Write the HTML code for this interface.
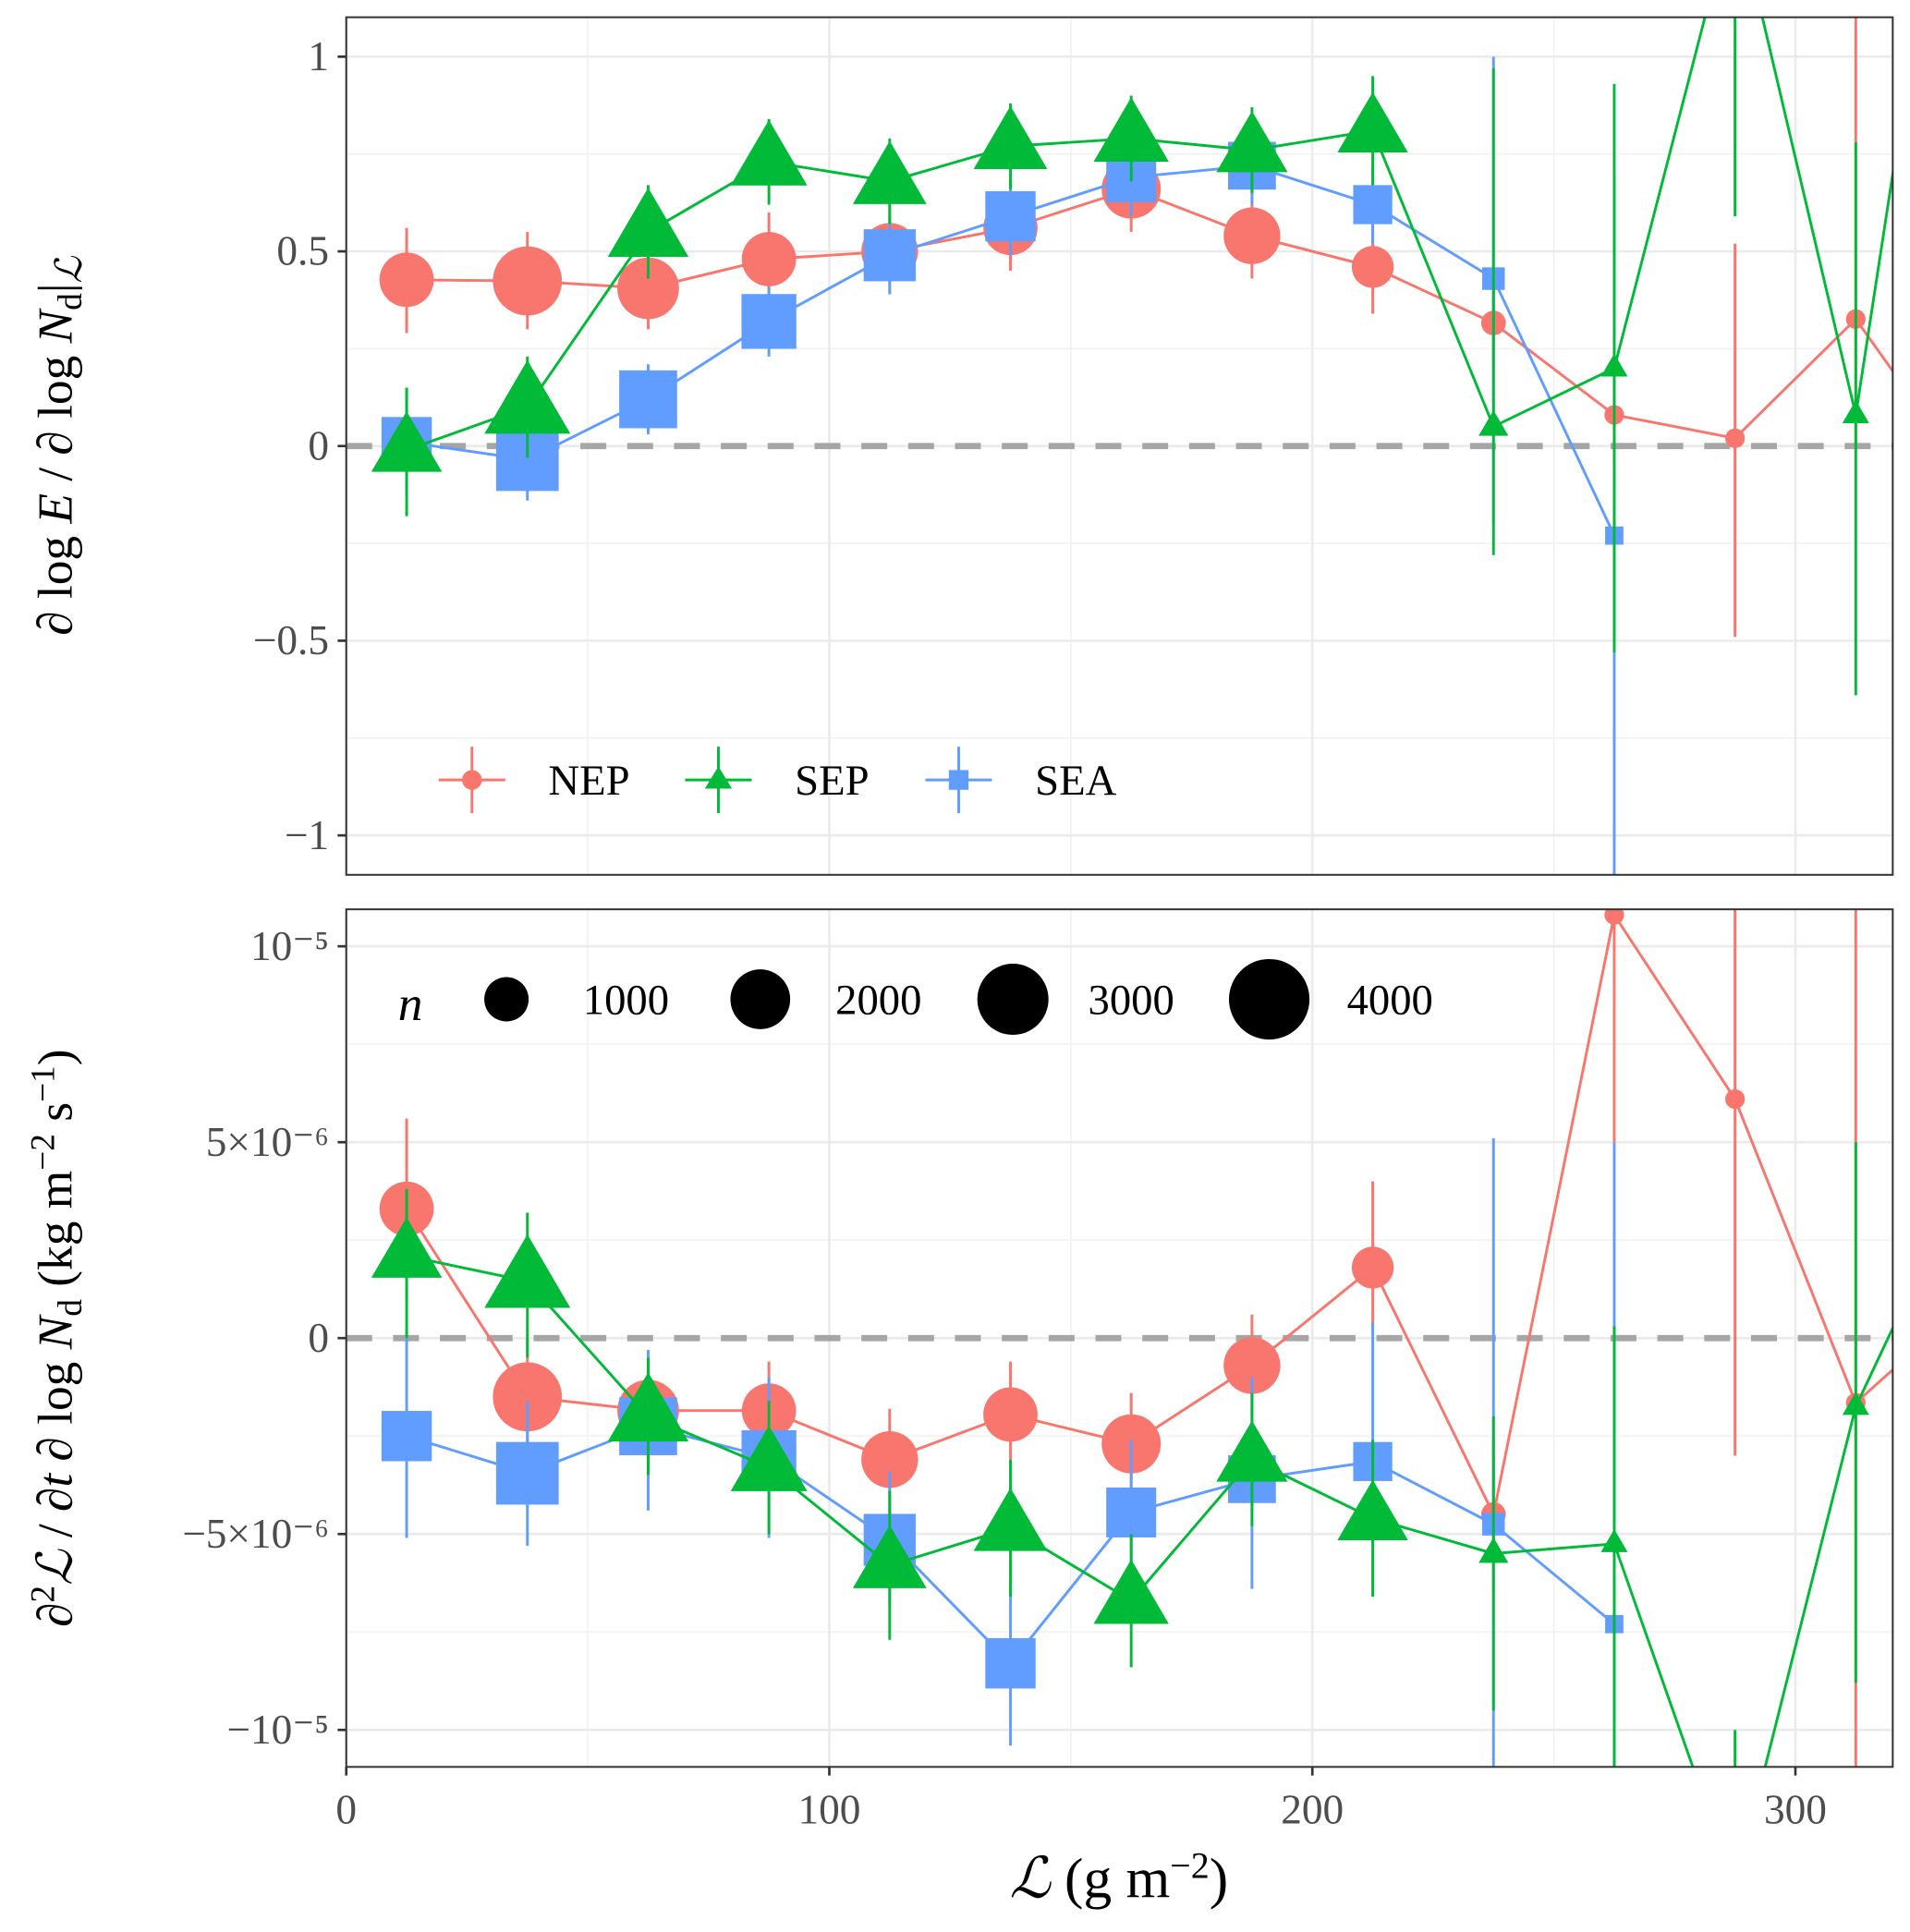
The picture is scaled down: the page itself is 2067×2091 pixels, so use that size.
<!DOCTYPE html>
<html><head><meta charset="utf-8"><style>
html,body{margin:0;padding:0;background:#fff;overflow:hidden;width:2067px;height:2091px;}
svg{display:block;font-family:"Liberation Serif",serif;}
</style></head><body>
<svg id="chart" width="2067" height="2091" viewBox="0 0 1550 1568" preserveAspectRatio="none" xmlns="http://www.w3.org/2000/svg"></svg>
<script>
const xVals=[12.5,37.5,62.5,87.5,112.5,137.5,162.5,187.5,212.5,237.5,262.5,287.5,312.5,337.5];
const xTicks=[0,100,200,300];
const topTicks=[1,0.5,0,-0.5,-1];
const topTickLabels=["1","0.5","0","\u22120.5","\u22121"];
const botTicks=[10,5,0,-5,-10];
const botTickLabels=["10\u207B\u2075","5\u00D710\u207B\u2076","0","\u22125\u00D710\u207B\u2076","\u221210\u207B\u2075"];
// top panel values
const topNEP=[0.427,0.424,0.405,0.48,0.5,0.56,0.66,0.54,0.46,0.316,0.08,0.02,0.326,-0.11];
const topNEPlo=[0.29,0.3,0.3,0.36,0.39,0.45,0.55,0.43,0.34,0.2,-0.05,-0.49,0.0,-0.5];
const topNEPhi=[0.56,0.55,0.5,0.6,0.62,0.67,0.77,0.65,0.58,0.45,0.21,0.52,1.3,0.3];
const topSEP=[-0.01,0.1,0.55,0.73,0.68,0.77,0.79,0.76,0.81,0.05,0.2,1.4,0.08,2.1];
const topSEPlo=[-0.18,-0.03,0.43,0.62,0.57,0.66,0.68,0.65,0.67,-0.28,-0.53,0.59,-0.64,1.2];
const topSEPhi=[0.15,0.23,0.67,0.84,0.79,0.88,0.9,0.87,0.95,0.97,0.93,2.2,0.78,3.0];
const topSEA=[0.01,-0.035,0.12,0.32,0.49,0.59,0.69,0.72,0.62,0.43,-0.23];
const topSEAlo=[-0.13,-0.14,0.03,0.23,0.39,0.49,0.59,0.62,0.52,-0.2,-1.2];
const topSEAhi=[0.15,0.07,0.21,0.41,0.59,0.69,0.79,0.82,0.72,1.0,0.7];
// bottom panel values (units of 1e-6)
const botNEP=[3.3,-1.5,-1.85,-1.85,-3.1,-1.95,-2.7,-0.7,1.8,-4.5,10.8,6.1,-1.65,1.1];
const botNEPlo=[1.0,-3.0,-3.2,-3.2,-4.5,-3.3,-4.0,-2.0,0.2,-6.5,5.0,-3.0,-12,-5];
const botNEPhi=[5.6,0.0,-0.5,-0.6,-1.8,-0.6,-1.4,0.6,4.0,-2.5,16,15,12,7];
const botSEP=[2.1,1.45,-2.0,-3.3,-5.8,-4.85,-6.7,-3.1,-4.6,-5.5,-5.25,-14,-1.75,4.8];
const botSEPlo=[0.0,-0.5,-3.5,-5.0,-7.7,-6.6,-8.4,-4.8,-6.6,-9.5,-12,-20,-8.8,0];
const botSEPhi=[3.8,3.2,-0.5,-1.6,-3.9,-3.1,-5.0,-1.4,-2.6,-2.0,0.3,-10,5.0,9];
const botSEA=[-2.5,-3.45,-2.25,-3.05,-5.15,-8.3,-4.45,-3.6,-3.15,-4.75,-7.3];
const botSEAlo=[-5.1,-5.3,-4.4,-5.1,-6.8,-10.4,-6.2,-6.4,-5.2,-12,-12];
const botSEAhi=[0.0,-1.6,-0.3,-1.0,-3.4,-6.2,-2.6,-1.0,0.4,5.1,5.0];
// sample counts (marker sizes)
const nNEP=[1600,2800,2150,1600,1770,1600,1950,1770,875,255,150,150,150,150];
const nSEP=[1900,3000,2600,2300,2100,2100,2200,1950,1900,255,200,200,200,200];
const nSEA=[1800,3000,2500,2200,1950,1800,1770,1600,1000,280,170];
const legendN=[1000,2000,3000,4000];

const NS="http://www.w3.org/2000/svg";
const svg=document.getElementById('chart');
const C={NEP:"#F8766D",SEP:"#00BA38",SEA:"#619CFF"};
const X0=281,X1=1536;
function xs(v){return X0+(v-0)*(673-281)/100;}
function rOf(n){return 18*Math.pow(n/1000,0.43);}
function mk(tag,attrs,parent){const e=document.createElementNS(NS,tag);for(const k in attrs)e.setAttribute(k,attrs[k]);(parent||svg).appendChild(e);return e;}

function panel(name,top,bot,ys,ticks,labels){
  const g=mk('g',{});
  
  
  mk('rect',{x:X0,y:top,width:X1-X0,height:bot-top,fill:'#fff'},g);
  for(let i=0;i<ticks.length-1;i++){const y=(ys(ticks[i])+ys(ticks[i+1]))/2;mk('line',{x1:X0,x2:X1,y1:y,y2:y,stroke:'#f2f2f2','stroke-width':1.2},g);}
  [50,150,250].forEach(v=>mk('line',{x1:xs(v),x2:xs(v),y1:top,y2:bot,stroke:'#f2f2f2','stroke-width':1.2},g));
  ticks.forEach(t=>{const y=ys(t);const gl=mk('line',{x1:X0,x2:X1,y1:y,y2:y,stroke:'#ebebeb','stroke-width':2},g);});
  xTicks.forEach(v=>mk('line',{x1:xs(v),x2:xs(v),y1:top,y2:bot,stroke:'#ebebeb','stroke-width':2},g));
  ticks.forEach((t,i)=>{const y=ys(t);mk('line',{x1:X0-7,x2:X0,y1:y,y2:y,stroke:'#333','stroke-width':2},g);
    const tx=mk('text',{x:X0-14,y:y+11,'text-anchor':'end','font-size':34,fill:'#4d4d4d'},g);tx.textContent=labels[i];
    });
  mk('line',{x1:X0,x2:X1,y1:ys(0),y2:ys(0),stroke:'#a6a6a6','stroke-width':5,'stroke-dasharray':'21 17'},g);
  return g;
}
function series(g,clipId,ys,vals,lo,hi,ns,color,shape,name){
  const sg=mk('g',{'clip-path':'url(#'+clipId+')'},g);
  
  
  let d='';vals.forEach((v,i)=>{d+=(i?'L':'M')+xs(xVals[i])+','+ys(v);});
  mk('path',{d:d,fill:'none',stroke:color,'stroke-width':2.2},sg);
  vals.forEach((v,i)=>{const x=xs(xVals[i]);mk('line',{x1:x,x2:x,y1:ys(lo[i]),y2:ys(hi[i]),stroke:color,'stroke-width':2.2},sg);});
  vals.forEach((v,i)=>{const x=xs(xVals[i]),y=ys(v),r=rOf(ns[i]);let m;
    if(shape==='c')m=mk('circle',{cx:x,cy:y,r:r,fill:color},sg);
    else if(shape==='s'){const h=r*0.88;m=mk('rect',{x:x-h,y:y-h,width:2*h,height:2*h,fill:color},sg);}
    else{const s=r*1.15;m=mk('polygon',{points:`${x},${y-s*1.15} ${x-s*1.05},${y+s*0.65} ${x+s*1.05},${y+s*0.65}`,fill:color},sg);}
    });
}
const defs=mk('defs',{});
const TT=14,TB=710,BT=738,BB=1434;
const cp1=mk('clipPath',{id:'clipTop'},defs);mk('rect',{x:X0,y:TT,width:X1-X0,height:TB-TT},cp1);
const cp2=mk('clipPath',{id:'clipBot'},defs);mk('rect',{x:X0,y:BT,width:X1-X0,height:BB-BT},cp2);

const ysT=v=>362-v*316;
const ysB=v=>1086-v*31.8;
const gT=panel('top-panel',TT,TB,ysT,topTicks,topTickLabels);
series(gT,'clipTop',ysT,topNEP,topNEPlo,topNEPhi,nNEP,C.NEP,'c','nep-series');
series(gT,'clipTop',ysT,topSEA,topSEAlo,topSEAhi,nSEA,C.SEA,'s','sea-series');
series(gT,'clipTop',ysT,topSEP,topSEPlo,topSEPhi,nSEP,C.SEP,'t','sep-series');
mk('rect',{x:X0,y:TT,width:X1-X0,height:TB-TT,fill:'none',stroke:'#333','stroke-width':1.5},gT);
const gB=panel('bottom-panel',BT,BB,ysB,botTicks,botTickLabels);
series(gB,'clipBot',ysB,botNEP,botNEPlo,botNEPhi,nNEP,C.NEP,'c','nep-series');
series(gB,'clipBot',ysB,botSEA,botSEAlo,botSEAhi,nSEA,C.SEA,'s','sea-series');
series(gB,'clipBot',ysB,botSEP,botSEPlo,botSEPhi,nSEP,C.SEP,'t','sep-series');
mk('rect',{x:X0,y:BT,width:X1-X0,height:BB-BT,fill:'none',stroke:'#333','stroke-width':1.5},gB);
xTicks.forEach(v=>{const x=xs(v);mk('line',{x1:x,x2:x,y1:BB,y2:BB+7,stroke:'#333','stroke-width':2});
  const t=mk('text',{x:x,y:BB+46,'text-anchor':'middle','font-size':34,fill:'#4d4d4d'});t.textContent=v;
  });
const lg=mk('g',{});


[['NEP',383,445,'c'],['SEP',583,645,'t'],['SEA',778,840,'s']].forEach(([k,x,tx,sh])=>{
  const e=mk('g',{},lg);
  
  
  const c=C[k],y=633;
  mk('line',{x1:x-27,x2:x+27,y1:y,y2:y,stroke:c,'stroke-width':2.2},e);
  mk('line',{x1:x,x2:x,y1:y-27,y2:y+27,stroke:c,'stroke-width':2.2},e);
  if(sh==='c')mk('circle',{cx:x,cy:y,r:8,fill:c},e);
  else if(sh==='s')mk('rect',{x:x-8,y:y-8,width:16,height:16,fill:c},e);
  else mk('polygon',{points:`${x},${y-11} ${x-11},${y+7} ${x+11},${y+7}`,fill:c},e);
  const t=mk('text',{x:tx,y:y+12,'font-size':35,fill:'#000'},e);t.textContent=k;});
const sl=mk('g',{});


const nt=mk('text',{x:323,y:828,'font-size':40,'font-style':'italic'},sl);nt.textContent='n';
const lx=[411,617,822,1030],tx2=[473,678,883,1093];
legendN.forEach((n,i)=>{mk('circle',{cx:lx[i],cy:811,r:rOf(n)},sl);
  const t=mk('text',{x:tx2[i],y:823,'font-size':35},sl);t.textContent=n;});
const at1=mk('text',{transform:'translate(58,362) rotate(-90)','text-anchor':'middle','font-size':40});

at1.innerHTML='∂ log <tspan font-style="italic">E</tspan> / ∂ log <tspan font-style="italic">N</tspan><tspan font-size="28" dy="8">d</tspan><tspan dy="-8">|</tspan><tspan font-style="italic" font-size="30" dy="8">ℒ</tspan>';
const at2=mk('text',{transform:'translate(58,1086) rotate(-90)','text-anchor':'middle','font-size':40});

at2.innerHTML='∂<tspan font-size="28" dy="-14">2</tspan><tspan dy="14" font-style="italic">ℒ</tspan> / ∂<tspan font-style="italic">t</tspan> ∂ log <tspan font-style="italic">N</tspan><tspan font-size="28" dy="8">d</tspan><tspan dy="-8"> (kg m</tspan><tspan font-size="28" dy="-14">−2</tspan><tspan dy="14"> s</tspan><tspan font-size="28" dy="-14">−1</tspan><tspan dy="14">)</tspan>';
const xt=mk('text',{x:908,y:1540,'text-anchor':'middle','font-size':46});

xt.innerHTML='<tspan font-style="italic">ℒ</tspan> (g m<tspan font-size="30" dy="-16">−2</tspan><tspan dy="16">)</tspan>';
</script>
</body></html>
